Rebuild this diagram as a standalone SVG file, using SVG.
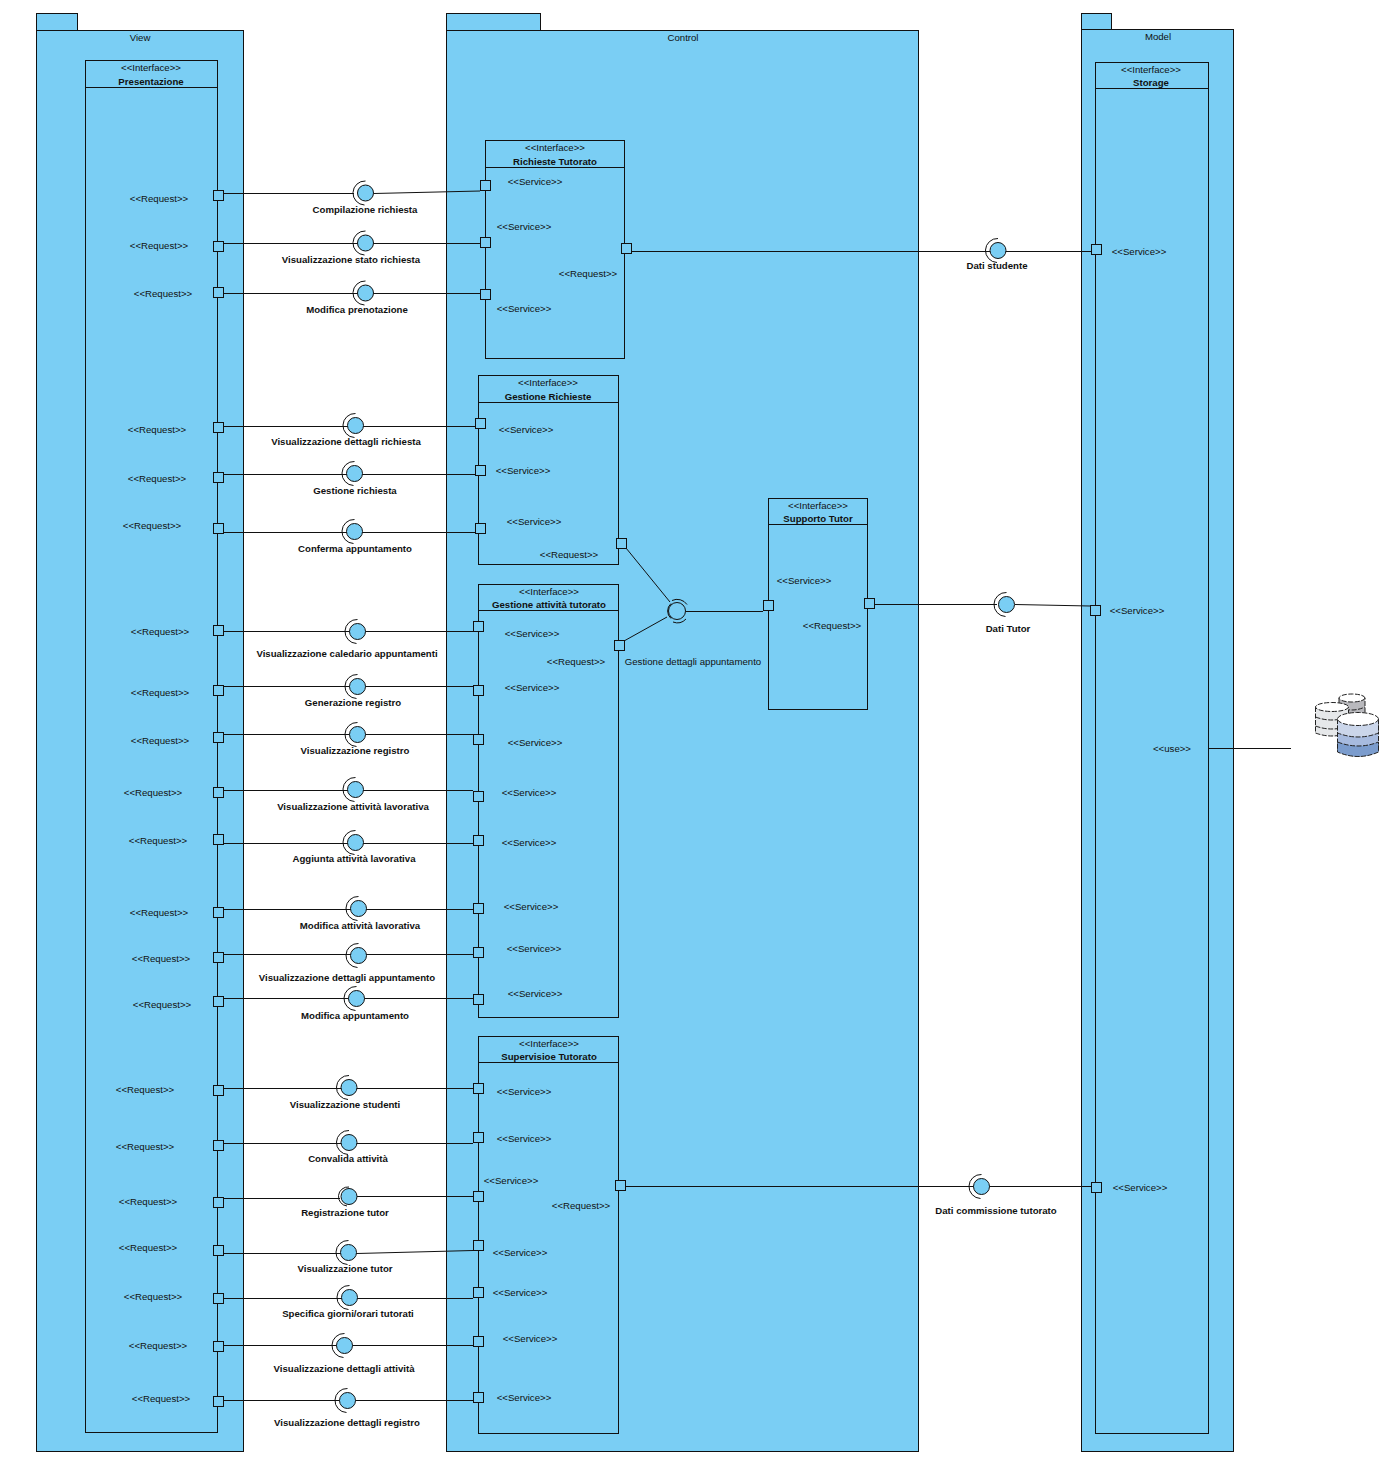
<svg xmlns="http://www.w3.org/2000/svg" xmlns:xlink="http://www.w3.org/1999/xlink" width="1400" height="1467" viewBox="0 0 1400 1467">
<style>
text{font-family:"Liberation Sans",Arial,sans-serif;font-size:9.65px;fill:#111;text-anchor:middle}
.b{font-weight:bold}
.p{fill:#7acef4;stroke:#111;stroke-width:1}
.n{fill:none;stroke:#111;stroke-width:1}
.c{fill:none;stroke:#111;stroke-width:1}
</style>
<defs>
<g id="lolli"><circle r="8" class="p"/><path d="M0 -12A12 12 0 0 0 -1 12" class="n"/></g>
<g id="lolli2"><circle r="8.500" class="p"/><path d="M-6 7.500A10 10 0 0 1 -6 -7.500M-5 -10.500A12 12 0 0 1 10 -6.500M-4 11A12 12 0 0 0 9 8" class="n"/></g>
<rect id="port" x="-5" y="-5" width="10" height="10" class="p"/>
<clipPath id="clipReq"><rect x="530" y="545" width="80" height="13.500"/></clipPath>
</defs>
<g id="pkg-view"><rect x="36.500" y="13.500" width="41" height="17" class="p"/><rect x="36.500" y="30.500" width="207" height="1421" class="p"/><text x="140" y="41">View</text></g>
<g id="pkg-control"><rect x="446.500" y="13.500" width="94" height="17" class="p"/><rect x="446.500" y="30.500" width="472" height="1421" class="p"/><text x="683" y="41">Control</text></g>
<g id="pkg-model"><rect x="1081.500" y="13.500" width="30" height="17" class="p"/><rect x="1081.500" y="29.500" width="152" height="1422" class="p"/><text x="1158" y="40">Model</text></g>
<g id="comp-presentazione"><rect x="85.500" y="60.500" width="132" height="1372" class="p"/><path d="M85.500 87.500H217.500" class="n"/><text x="151" y="71">&lt;&lt;Interface&gt;&gt;</text><text x="151" y="85" class="b">Presentazione</text></g>
<g id="comp-richieste"><rect x="485.500" y="140.500" width="139" height="218" class="p"/><path d="M485.500 167.500H624.500" class="n"/><text x="555" y="151">&lt;&lt;Interface&gt;&gt;</text><text x="555" y="165" class="b">Richieste Tutorato</text></g>
<g id="comp-gestione-richieste"><rect x="478.500" y="375.500" width="140" height="189" class="p"/><path d="M478.500 402.500H618.500" class="n"/><text x="548" y="386">&lt;&lt;Interface&gt;&gt;</text><text x="548" y="400" class="b">Gestione Richieste</text></g>
<g id="comp-gestione-attivita"><rect x="478.500" y="584.500" width="140" height="433" class="p"/><path d="M478.500 610.500H618.500" class="n"/><text x="549" y="595">&lt;&lt;Interface&gt;&gt;</text><text x="549" y="608" class="b">Gestione attività tutorato</text></g>
<g id="comp-supervisione"><rect x="478.500" y="1036.500" width="140" height="397" class="p"/><path d="M478.500 1062.500H618.500" class="n"/><text x="549" y="1047">&lt;&lt;Interface&gt;&gt;</text><text x="549" y="1060" class="b">Supervisioe Tutorato</text></g>
<g id="comp-supporto"><rect x="768.500" y="498.500" width="99" height="211" class="p"/><path d="M768.500 524.500H867.500" class="n"/><text x="818" y="509">&lt;&lt;Interface&gt;&gt;</text><text x="818" y="522" class="b">Supporto Tutor</text></g>
<g id="comp-storage"><rect x="1095.500" y="62.500" width="113" height="1371" class="p"/><path d="M1095.500 88.500H1208.500" class="n"/><text x="1151" y="73">&lt;&lt;Interface&gt;&gt;</text><text x="1151" y="86" class="b">Storage</text></g>
<g id="connectors">
<path class="c" d="M224 193.500H354M374 193.500L480 191"/>
<path class="c" d="M224 243.500H480"/>
<path class="c" d="M224 293.500H480"/>
<path class="c" d="M224 426.500H475"/>
<path class="c" d="M224 474.500H475"/>
<path class="c" d="M224 532.500H475"/>
<path class="c" d="M224 631.500H473"/>
<path class="c" d="M224 686.500H473"/>
<path class="c" d="M224 734.500H473"/>
<path class="c" d="M224 790.500H473"/>
<path class="c" d="M224 843.500H473"/>
<path class="c" d="M224 909.500H473"/>
<path class="c" d="M224 954.500H473"/>
<path class="c" d="M224 998.500H473"/>
<path class="c" d="M224 1088.500H473"/>
<path class="c" d="M224 1143.500H473"/>
<path class="c" d="M224 1198.500H340M350 1196.500H473"/>
<path class="c" d="M224 1253.500H357L473 1250.500"/>
<path class="c" d="M224 1298.500H473"/>
<path class="c" d="M224 1345.500H473"/>
<path class="c" d="M224 1400.500H473"/>
<path class="c" d="M632 251.500H1091"/>
<path class="c" d="M626 548L670 602"/>
<path class="c" d="M624 641L667 617"/>
<path class="c" d="M686 611.500H763"/>
<path class="c" d="M875 604.500H997M1015 604.500L1090 606"/>
<path class="c" d="M625 1186.500H1091"/>
<path class="c" d="M1208 748.500H1291"/>
</g>
<g id="ports">
<use href="#port" x="218.500" y="195.500"/><use href="#port" x="218.500" y="246.500"/><use href="#port" x="218.500" y="292.500"/><use href="#port" x="218.500" y="427.500"/><use href="#port" x="218.500" y="477.500"/><use href="#port" x="218.500" y="528.500"/><use href="#port" x="218.500" y="630.500"/><use href="#port" x="218.500" y="690.500"/><use href="#port" x="218.500" y="737.500"/><use href="#port" x="218.500" y="792.500"/><use href="#port" x="218.500" y="839.500"/><use href="#port" x="218.500" y="912.500"/><use href="#port" x="218.500" y="957.500"/><use href="#port" x="218.500" y="1001.500"/><use href="#port" x="218.500" y="1090.500"/><use href="#port" x="218.500" y="1145.500"/><use href="#port" x="218.500" y="1202.500"/><use href="#port" x="218.500" y="1250.500"/><use href="#port" x="218.500" y="1298.500"/><use href="#port" x="218.500" y="1346.500"/><use href="#port" x="218.500" y="1401.500"/>
<use href="#port" x="485.500" y="185.500"/><use href="#port" x="485.500" y="242.500"/><use href="#port" x="485.500" y="294.500"/><use href="#port" x="480.500" y="423.500"/><use href="#port" x="480.500" y="470.500"/><use href="#port" x="480.500" y="528.500"/><use href="#port" x="478.500" y="626.500"/><use href="#port" x="478.500" y="690.500"/><use href="#port" x="478.500" y="739.500"/><use href="#port" x="478.500" y="796.500"/><use href="#port" x="478.500" y="840.500"/><use href="#port" x="478.500" y="908.500"/><use href="#port" x="478.500" y="952.500"/><use href="#port" x="478.500" y="999.500"/><use href="#port" x="478.500" y="1088.500"/><use href="#port" x="478.500" y="1137.500"/><use href="#port" x="478.500" y="1196.500"/><use href="#port" x="478.500" y="1245.500"/><use href="#port" x="478.500" y="1292.500"/><use href="#port" x="478.500" y="1341.500"/><use href="#port" x="478.500" y="1397.500"/>
<use href="#port" x="626.500" y="248.500"/><use href="#port" x="621.500" y="543.500"/><use href="#port" x="619.500" y="645.500"/><use href="#port" x="620.500" y="1185.500"/><use href="#port" x="768.500" y="605.500"/><use href="#port" x="869.500" y="603.500"/><use href="#port" x="1096.500" y="249.500"/><use href="#port" x="1095.500" y="610.500"/><use href="#port" x="1096.500" y="1187.500"/>
</g>
<g id="if-compilazione"><use href="#lolli" x="365.500" y="193"/><text x="365" y="213" class="b">Compilazione richiesta</text></g>
<g id="if-stato"><use href="#lolli" x="365.500" y="243"/><text x="351" y="263" class="b">Visualizzazione stato richiesta</text></g>
<g id="if-modifica-pren"><use href="#lolli" x="365.500" y="293"/><text x="357" y="313" class="b">Modifica prenotazione</text></g>
<g id="if-dett-rich"><use href="#lolli" x="355.500" y="425.500"/><text x="346" y="445" class="b">Visualizzazione dettagli richiesta</text></g>
<g id="if-gest-rich"><use href="#lolli" x="354.500" y="473.500"/><text x="355" y="494" class="b">Gestione richiesta</text></g>
<g id="if-conferma"><use href="#lolli" x="354.500" y="531.500"/><text x="355" y="552" class="b">Conferma appuntamento</text></g>
<g id="if-calendario"><use href="#lolli" x="357.500" y="631.500"/><text x="347" y="657" class="b">Visualizzazione caledario appuntamenti</text></g>
<g id="if-gen-reg"><use href="#lolli" x="357.500" y="686.500"/><text x="353" y="706" class="b">Generazione registro</text></g>
<g id="if-vis-reg"><use href="#lolli" x="357.500" y="734.500"/><text x="355" y="754" class="b">Visualizzazione registro</text></g>
<g id="if-vis-att"><use href="#lolli" x="355.500" y="789.500"/><text x="353" y="810" class="b">Visualizzazione attività lavorativa</text></g>
<g id="if-agg-att"><use href="#lolli" x="355.500" y="842.500"/><text x="354" y="862" class="b">Aggiunta attività lavorativa</text></g>
<g id="if-mod-att"><use href="#lolli" x="358.500" y="908.500"/><text x="360" y="929" class="b">Modifica attività lavorativa</text></g>
<g id="if-dett-app"><use href="#lolli" x="358.500" y="955.500"/><text x="347" y="981" class="b">Visualizzazione dettagli appuntamento</text></g>
<g id="if-mod-app"><use href="#lolli" x="356.500" y="998.500"/><text x="355" y="1019" class="b">Modifica appuntamento</text></g>
<g id="if-studenti"><use href="#lolli" x="349" y="1087.500"/><text x="345" y="1108" class="b">Visualizzazione studenti</text></g>
<g id="if-convalida"><use href="#lolli" x="349" y="1142.500"/><text x="348" y="1162" class="b">Convalida attività</text></g>
<g id="if-reg-tutor"><circle cx="349" cy="1196.500" r="8" class="p"/><path d="M349 1187A9.500 9.500 0 0 0 347 1206" class="n"/><text x="345" y="1216" class="b">Registrazione tutor</text></g>
<g id="if-vis-tutor"><use href="#lolli" x="348.500" y="1252.500"/><text x="345" y="1272" class="b">Visualizzazione tutor</text></g>
<g id="if-giorni"><use href="#lolli" x="349.500" y="1297.500"/><text x="348" y="1317" class="b">Specifica giorni/orari tutorati</text></g>
<g id="if-dett-att"><use href="#lolli" x="344.500" y="1345.500"/><text x="344" y="1372" class="b">Visualizzazione dettagli attività</text></g>
<g id="if-dett-reg"><use href="#lolli" x="347.500" y="1400.500"/><text x="347" y="1426" class="b">Visualizzazione dettagli registro</text></g>
<g id="if-dati-studente"><use href="#lolli" x="998" y="250.500"/><text x="997" y="269" class="b">Dati studente</text></g>
<g id="if-dati-tutor"><use href="#lolli" x="1006.500" y="604.500"/><text x="1008" y="632" class="b">Dati Tutor</text></g>
<g id="if-dati-comm"><use href="#lolli" x="981.500" y="1186.500"/><text x="996" y="1214" class="b">Dati commissione tutorato</text></g>
<g id="if-gest-dett"><use href="#lolli2" x="677" y="611"/><text x="693" y="665">Gestione dettagli appuntamento</text></g>
<g id="labels">
<text x="159" y="202">&lt;&lt;Request&gt;&gt;</text><text x="159" y="249">&lt;&lt;Request&gt;&gt;</text><text x="163" y="297">&lt;&lt;Request&gt;&gt;</text><text x="157" y="433">&lt;&lt;Request&gt;&gt;</text><text x="157" y="482">&lt;&lt;Request&gt;&gt;</text><text x="152" y="529">&lt;&lt;Request&gt;&gt;</text><text x="160" y="635">&lt;&lt;Request&gt;&gt;</text><text x="160" y="696">&lt;&lt;Request&gt;&gt;</text><text x="160" y="744">&lt;&lt;Request&gt;&gt;</text><text x="153" y="796">&lt;&lt;Request&gt;&gt;</text><text x="158" y="844">&lt;&lt;Request&gt;&gt;</text><text x="159" y="916">&lt;&lt;Request&gt;&gt;</text><text x="161" y="962">&lt;&lt;Request&gt;&gt;</text><text x="162" y="1008">&lt;&lt;Request&gt;&gt;</text><text x="145" y="1093">&lt;&lt;Request&gt;&gt;</text><text x="145" y="1150">&lt;&lt;Request&gt;&gt;</text><text x="148" y="1205">&lt;&lt;Request&gt;&gt;</text><text x="148" y="1251">&lt;&lt;Request&gt;&gt;</text><text x="153" y="1300">&lt;&lt;Request&gt;&gt;</text><text x="158" y="1349">&lt;&lt;Request&gt;&gt;</text><text x="161" y="1402">&lt;&lt;Request&gt;&gt;</text>
<text x="535" y="185">&lt;&lt;Service&gt;&gt;</text><text x="524" y="230">&lt;&lt;Service&gt;&gt;</text><text x="524" y="312">&lt;&lt;Service&gt;&gt;</text><text x="526" y="433">&lt;&lt;Service&gt;&gt;</text><text x="523" y="474">&lt;&lt;Service&gt;&gt;</text><text x="534" y="525">&lt;&lt;Service&gt;&gt;</text><text x="532" y="637">&lt;&lt;Service&gt;&gt;</text><text x="532" y="691">&lt;&lt;Service&gt;&gt;</text><text x="535" y="746">&lt;&lt;Service&gt;&gt;</text><text x="529" y="796">&lt;&lt;Service&gt;&gt;</text><text x="529" y="846">&lt;&lt;Service&gt;&gt;</text><text x="531" y="910">&lt;&lt;Service&gt;&gt;</text><text x="534" y="952">&lt;&lt;Service&gt;&gt;</text><text x="535" y="997">&lt;&lt;Service&gt;&gt;</text><text x="524" y="1095">&lt;&lt;Service&gt;&gt;</text><text x="524" y="1142">&lt;&lt;Service&gt;&gt;</text><text x="511" y="1184">&lt;&lt;Service&gt;&gt;</text><text x="520" y="1256">&lt;&lt;Service&gt;&gt;</text><text x="520" y="1296">&lt;&lt;Service&gt;&gt;</text><text x="530" y="1342">&lt;&lt;Service&gt;&gt;</text><text x="524" y="1401">&lt;&lt;Service&gt;&gt;</text>
<text x="588" y="277">&lt;&lt;Request&gt;&gt;</text><text x="569" y="558" clip-path="url(#clipReq)">&lt;&lt;Request&gt;&gt;</text><text x="576" y="665">&lt;&lt;Request&gt;&gt;</text><text x="581" y="1209">&lt;&lt;Request&gt;&gt;</text><text x="832" y="629">&lt;&lt;Request&gt;&gt;</text><text x="804" y="584">&lt;&lt;Service&gt;&gt;</text>
<text x="1139" y="255">&lt;&lt;Service&gt;&gt;</text><text x="1137" y="614">&lt;&lt;Service&gt;&gt;</text><text x="1140" y="1191">&lt;&lt;Service&gt;&gt;</text><text x="1172" y="752">&lt;&lt;use&gt;&gt;</text>
</g>
<g id="database" stroke="#222" stroke-width="1" stroke-dasharray="5 1.500">
<path d="M1339 698v17h26v-17z" fill="#b9b9bd"/><ellipse cx="1352" cy="698" rx="13" ry="4" fill="#fff"/><path d="M1339 707q13 6 26 0" fill="none"/>
<path d="M1315.500 707v26q16 6 33 0v-26z" fill="#e6e8ea"/><ellipse cx="1332" cy="707" rx="16.500" ry="4.500" fill="#fff"/><path d="M1315.500 717q16 6 33 0M1315.500 726q16 6 33 0" fill="none"/>
<path d="M1337.500 719v32q21 10 41 0v-32z" fill="#a7bbdf"/><path d="M1337.500 719v14q21 8 41 0v-14z" fill="#cbd6ea"/><path d="M1337.500 742q21 8 41 0v10q-20 9 -41 0z" fill="#7b9ccd"/><ellipse cx="1358" cy="719" rx="20.500" ry="6.500" fill="#fff"/>
</g>
</svg>
